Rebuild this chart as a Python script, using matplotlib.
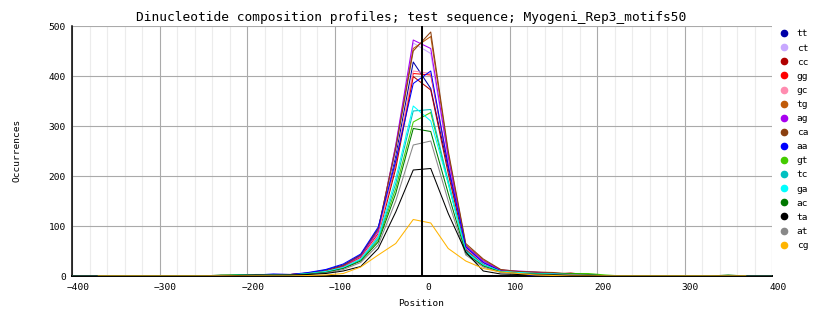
import numpy as np
import matplotlib
matplotlib.use("Agg")
import matplotlib.pyplot as plt
from matplotlib.lines import Line2D
from matplotlib.transforms import ScaledTranslation

plt.rcParams['font.family'] = ['DejaVu Sans Mono']

# bin centres along the sequence window
positions = np.arange(-410, 411, 20)

# counts from -230 to 210, the rest of the window is empty
core_start = -230

tt = [0, 1, 1, 3, 3, 6, 12, 22, 42, 95, 240, 428, 375, 215, 55, 25, 10, 6, 0, 3, 2, 1, 0]
ct = [0, 0, 1, 1, 2, 4, 9, 18, 36, 85, 250, 466, 445, 235, 58, 28, 12, 8, 6, 5, 3, 2, 0]
cc = [0, 1, 1, 2, 2, 4, 8, 17, 34, 80, 215, 399, 372, 205, 52, 24, 9, 6, 5, 4, 6, 2, 0]
gg = [1, 1, 2, 2, 3, 5, 9, 19, 37, 85, 225, 405, 402, 220, 57, 26, 11, 6, 4, 3, 2, 2, 0]
gc = [0, 1, 1, 2, 2, 4, 8, 17, 35, 82, 230, 410, 405, 225, 56, 25, 10, 7, 5, 4, 3, 1, 0]
tg = [1, 1, 2, 3, 3, 5, 10, 20, 40, 92, 260, 455, 479, 245, 62, 32, 12, 8, 7, 6, 4, 3, 0]
ag = [0, 1, 2, 2, 3, 5, 10, 20, 40, 90, 262, 472, 455, 238, 60, 30, 12, 10, 8, 5, 3, 2, 0]
ca = [1, 1, 2, 3, 3, 6, 10, 21, 42, 95, 255, 450, 488, 250, 65, 34, 13, 9, 8, 7, 4, 3, 0]
aa = [0, 1, 2, 4, 3, 7, 13, 24, 44, 98, 230, 385, 410, 220, 58, 27, 10, 5, 0, 0, 3, 1, 0]
gt = [1, 2, 2, 2, 2, 4, 8, 16, 32, 72, 175, 308, 327, 185, 50, 22, 9, 6, 4, 3, 5, 5, 2]
tc = [0, 2, 3, 3, 2, 4, 8, 16, 33, 75, 185, 330, 333, 190, 50, 23, 9, 6, 5, 4, 3, 2, 0]
ga = [0, 2, 3, 3, 2, 5, 9, 17, 34, 78, 195, 340, 310, 185, 48, 22, 9, 7, 5, 4, 3, 2, 0]
ac = [2, 2, 2, 1, 2, 4, 7, 15, 30, 68, 165, 295, 289, 165, 45, 20, 8, 5, 4, 3, 4, 3, 0]
ta = [0, 1, 2, 2, 2, 3, 5, 10, 19, 55, 128, 212, 215, 125, 48, 10, 4, 3, 2, 2, 1, 1, 0]
at = [1, 1, 2, 2, 2, 3, 6, 13, 27, 62, 150, 262, 270, 150, 42, 18, 7, 5, 3, 2, 3, 2, 0]
cg = [0, 0, 0, 0, 0, 1, 2, 5, 18, 42, 65, 113, 106, 55, 30, 15, 8, 5, 2, 1, 0, 0, 0]

# isolated counts far from the centre
extra = {"ac": {350: 2}}
# cg profile only covers -370..370
cg_range = (-370, 370)

names = ["tt", "ct", "cc", "gg", "gc", "tg", "ag", "ca", "aa",
         "gt", "tc", "ga", "ac", "ta", "at", "cg"]
series = [tt, ct, cc, gg, gc, tg, ag, ca, aa, gt, tc, ga, ac, ta, at, cg]
colors = ["#0000a8", "#c8a8ff", "#b00000", "#ff0000", "#ff8cb0", "#c05a08",
          "#a800f0", "#8b4010", "#0000ff", "#44cc00", "#00c0c0", "#00ffff",
          "#007800", "#000000", "#888888", "#ffb400"]


def full_profile(name, core):
    y = np.zeros(len(positions))
    i0 = int(np.where(positions == core_start)[0][0])
    y[i0:i0 + len(core)] = core
    for p, v in extra.get(name, {}).items():
        y[positions == p] = v
    if name == "cg":
        y[(positions < cg_range[0]) | (positions > cg_range[1])] = np.nan
    return y


fig = plt.figure(figsize=(8.34, 3.28), dpi=100)
ax = fig.add_axes([72 / 834, 1 - 276 / 328, 700 / 834, 250 / 328])

for name, core, col in zip(names, series, colors):
    z = 3.5 if name in ("ta", "cg") else 3
    if name == "cg":
        z = 3.6
    ax.plot(positions, full_profile(name, core), color=col, lw=0.75, zorder=z)

ax.axvline(0, color="black", lw=1.4, zorder=4)

ax.set_xlim(-400, 400)
ax.set_ylim(0, 500)
ax.set_xticks(np.arange(-400, 401, 100))
ax.set_xticks(np.arange(-380, 400, 20), minor=True)
ax.set_yticks(np.arange(0, 501, 100))
ax.grid(which="major", color="#aaaaaa", lw=0.8, zorder=0)
ax.grid(which="minor", axis="x", color="#ececec", lw=0.8, zorder=0)
ax.set_axisbelow(True)
ax.tick_params(which="both", length=0, labelsize=6.8)
ax.tick_params(axis="x", pad=5)
ax.tick_params(axis="y", pad=4.5)
for lab in ax.get_xticklabels():
    lab.set_transform(lab.get_transform() + ScaledTranslation(6 / 100, 0, fig.dpi_scale_trans))

for s in ("top", "right"):
    ax.spines[s].set_visible(False)
ax.spines["left"].set_linewidth(1.1)
ax.spines["bottom"].set_linewidth(1.4)

fig.text(411 / 834, 1 - 18 / 328,
         "Dinucleotide composition profiles; test sequence; Myogeni_Rep3_motifs50",
         ha="center", va="center", fontsize=9.25)
fig.text(421 / 834, 1 - 303 / 328, "Position", ha="center", va="center", fontsize=6.8)
fig.text(17 / 834, 1 - 150 / 328, "Occurrences", ha="center", va="center",
         rotation=90, fontsize=6.8)

handles = [Line2D([], [], ls="none", marker="o", markersize=4.5, color=c) for c in colors]
fig.legend(handles, names, loc="upper left", bbox_to_anchor=(779 / 834, 1 - 29.5 / 328),
           frameon=False, borderpad=0, borderaxespad=0, handlelength=1.0,
           handletextpad=0.88, labelspacing=0.54, fontsize=6.8)

fig.savefig("out.png", dpi=100)
